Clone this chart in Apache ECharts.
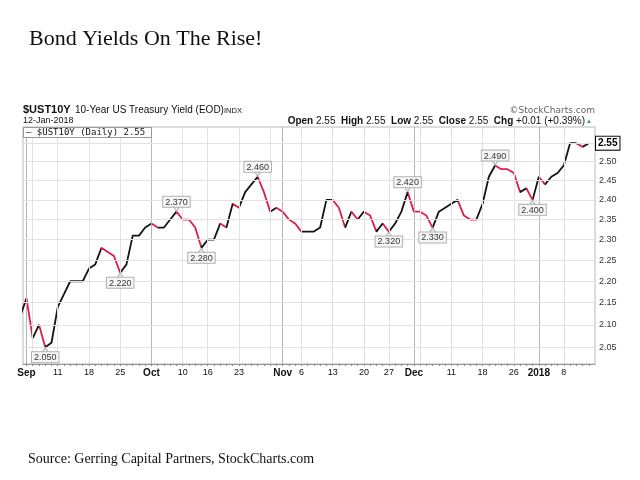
<!DOCTYPE html>
<html><head><meta charset="utf-8">
<script src="https://cdn.jsdelivr.net/npm/echarts@6/dist/echarts.min.js"></script>
<style>html,body{margin:0;padding:0;background:#fff}#c{width:640px;height:480px}</style>
</head><body><div id="c"></div>
<script>
// ---- data (trading days, index 0 = 31-Aug-2017) ----
const dates = ['Aug 31','Sep 1','Sep 5','Sep 6','Sep 7','Sep 8','Sep 11','Sep 12','Sep 13','Sep 14','Sep 15',
 'Sep 18','Sep 19','Sep 20','Sep 21','Sep 22','Sep 25','Sep 26','Sep 27','Sep 28','Sep 29',
 'Oct 2','Oct 3','Oct 4','Oct 5','Oct 6','Oct 10','Oct 11','Oct 12','Oct 13',
 'Oct 16','Oct 17','Oct 18','Oct 19','Oct 20','Oct 23','Oct 24','Oct 25','Oct 26','Oct 27',
 'Oct 30','Oct 31','Nov 1','Nov 2','Nov 3','Nov 6','Nov 7','Nov 8','Nov 9','Nov 10',
 'Nov 13','Nov 14','Nov 15','Nov 16','Nov 17','Nov 20','Nov 21','Nov 22','Nov 24',
 'Nov 27','Nov 28','Nov 29','Nov 30','Dec 1','Dec 4','Dec 5','Dec 6','Dec 7','Dec 8',
 'Dec 11','Dec 12','Dec 13','Dec 14','Dec 15','Dec 18','Dec 19','Dec 20','Dec 21','Dec 22',
 'Dec 26','Dec 27','Dec 28','Dec 29','Jan 2','Jan 3','Jan 4','Jan 5','Jan 8','Jan 9','Jan 10','Jan 11','Jan 12'];
const yields = [2.12,2.16,2.07,2.10,2.05,2.06,2.14,2.17,2.20,2.20,2.20,
 2.23,2.24,2.28,2.27,2.26,2.22,2.24,2.31,2.31,2.33,
 2.34,2.33,2.33,2.35,2.37,2.35,2.35,2.33,2.28,
 2.30,2.30,2.34,2.33,2.39,2.38,2.42,2.44,2.46,2.42,
 2.37,2.38,2.37,2.35,2.34,2.32,2.32,2.32,2.33,2.40,
 2.40,2.38,2.33,2.37,2.35,2.37,2.36,2.32,2.34,
 2.32,2.34,2.37,2.42,2.37,2.37,2.36,2.33,2.37,2.38,
 2.39,2.40,2.36,2.35,2.35,2.39,2.46,2.49,2.48,2.48,
 2.47,2.42,2.43,2.40,2.46,2.44,2.46,2.47,2.49,2.55,2.55,2.54,2.55];
// unchanged (rounded) closes that the source draws as up-days (black)
const flatUpIdx = [23,46,47];
const weekStarts = [2,6,11,16,26,30,35,40,45,50,55,59,64,69,74,79,87];
const monthStarts = [1,21,42,63,83];
const xLabelIdx = [1,6,11,16,21,26,30,35,42,45,50,55,59,63,69,74,79,83,87];
const xLabelText = ['Sep','11','18','25','Oct','10','16','23','Nov','6','13','20','27','Dec','11','18','26','2018','8'];
const boldLabels = ['Sep','Oct','Nov','Dec','2018'];
const yTicks = [2.05,2.10,2.15,2.20,2.25,2.30,2.35,2.40,2.45,2.50,2.55];
const lastValue = 2.55;
const highIdx = [25,38,62,76];
const lowIdx = [4,16,29,59,66,82];

const RED = '#dc1e48', BLACK = '#141414';
const SANS = 'Arial, "Liberation Sans", sans-serif';

// segment colours: down = red, up = black, unchanged = previous colour unless listed
const seg = [];
let prev = 'up';
for (let i = 1; i < yields.length; i++) {
  let d = yields[i] < yields[i-1] ? 'down' : (yields[i] > yields[i-1] ? 'up' : prev);
  if (yields[i] === yields[i-1] && flatUpIdx.includes(i)) d = 'up';
  seg.push(d); prev = d;
}
const pieces = [];
let s = 0;
for (let i = 1; i <= seg.length; i++) {
  if (i === seg.length || seg[i] !== seg[s]) {
    pieces.push({gte: s, lte: i, color: seg[s] === 'down' ? RED : BLACK});
    s = i;
  }
}

const lineData = yields.map((v, i) => [i, v]);
const dayIdx = yields.map((v, i) => i);

const vLines = weekStarts.map(i => ({xAxis: i, lineStyle: {color: '#e2e2e2', width: 1, type: 'solid'}}))
  .concat(monthStarts.map(i => ({xAxis: i, lineStyle: {color: '#b5b5b5', width: 1, type: 'solid'}})));
const hLines = yTicks.map(v => ({
  yAxis: v,
  lineStyle: {color: '#e2e2e2', width: 1, type: 'solid'},
  label: v === lastValue ? {
    show: true, position: 'end', distance: 1,
    formatter: '{box|' + v.toFixed(2) + '}',
    rich: {box: {borderColor: '#000', borderWidth: 1, padding: [2, 2, 1, 2], fontWeight: 'bold',
      fontSize: 10, color: '#000', backgroundColor: '#fff', fontFamily: SANS}}
  } : {
    show: true, position: 'end', distance: 4, formatter: v.toFixed(2),
    color: '#333', fontSize: 9, fontFamily: SANS
  }
}));

const callouts = highIdx.map(i => ({type: 'high', i})).concat(lowIdx.map(i => ({type: 'low', i})))
  .map(c => ({
    coord: [c.i, yields[c.i]],
    value: yields[c.i].toFixed(3),
    symbol: 'triangle',
    symbolSize: [7, 5],
    symbolRotate: c.type === 'high' ? 180 : 0,
    symbolOffset: [0, c.type === 'high' ? -3 : 3],
    itemStyle: {color: '#f6f6f6', borderColor: '#b0b0b0', borderWidth: 1},
    label: {
      show: true, position: c.type === 'high' ? 'top' : 'bottom', distance: -1,
      formatter: yields[c.i].toFixed(3), color: '#333', fontSize: 9, fontFamily: SANS,
      backgroundColor: '#f6f6f6', borderColor: '#b0b0b0', borderWidth: 1, padding: [1, 2, 0, 2]
    }
  }));

const chart = echarts.init(document.getElementById('c'), null, {renderer: 'canvas'});
chart.setOption({
  animation: false,
  backgroundColor: '#fff',
  grid: {left: 23, right: 45, top: 127, bottom: 116, show: true, borderColor: '#b8b8b8', borderWidth: 1, backgroundColor: '#fff'},
  xAxis: {
    type: 'value', min: 0.44, max: 91.99,
    splitLine: {show: false},
    axisLine: {show: true, lineStyle: {color: '#999'}},
    axisTick: {show: true, customValues: dayIdx, length: 2, lineStyle: {color: '#888'}},
    axisLabel: {
      customValues: xLabelIdx, margin: 4, color: '#111', fontSize: 9, fontFamily: SANS,
      formatter: v => {
        const t = xLabelText[xLabelIdx.indexOf(Math.round(v))];
        return boldLabels.includes(t) ? '{b|' + t + '}' : t;
      },
      rich: {b: {fontWeight: 'bold', fontSize: 10, color: '#111', fontFamily: SANS}}
    }
  },
  yAxis: {
    type: 'log', logBase: 10, min: 2.0137, max: 2.5945, position: 'right',
    axisLine: {show: false}, axisTick: {show: false}, axisLabel: {show: false}, splitLine: {show: false}
  },
  visualMap: {show: false, type: 'piecewise', seriesIndex: 1, dimension: 0, pieces: pieces, outOfRange: {color: BLACK}},
  graphic: [
    {type: 'text', x: 29, y: 39, style: {text: 'Bond Yields On The Rise!', font: '22px "Liberation Serif", serif', fill: '#111', align: 'left', textAlign: 'left', verticalAlign: 'middle', textVerticalAlign: 'middle'}},
    {type: 'text', x: 28, y: 459, style: {text: 'Source: Gerring Capital Partners, StockCharts.com', font: '14px "Liberation Serif", serif', fill: '#111', align: 'left', textAlign: 'left', verticalAlign: 'middle', textVerticalAlign: 'middle'}},
    {type: 'text', x: 23, y: 110, style: {text: '$UST10Y', font: 'bold 11px ' + SANS, fill: '#111', align: 'left', textAlign: 'left', verticalAlign: 'middle', textVerticalAlign: 'middle'}},
    {type: 'text', x: 75, y: 110, style: {text: '10-Year US Treasury Yield (EOD)', font: '10px ' + SANS, fill: '#111', align: 'left', textAlign: 'left', verticalAlign: 'middle', textVerticalAlign: 'middle'}},
    {type: 'text', x: 224, y: 110.5, style: {text: 'INDX', font: '7.5px ' + SANS, fill: '#111', align: 'left', textAlign: 'left', verticalAlign: 'middle', textVerticalAlign: 'middle'}},
    {type: 'text', x: 23, y: 121, style: {text: '12-Jan-2018', font: '9px ' + SANS, fill: '#111', align: 'left', textAlign: 'left', verticalAlign: 'middle', textVerticalAlign: 'middle'}},
    {type: 'text', x: 595, y: 110.5, style: {text: '\u00A9StockCharts.com', font: '9px "DejaVu Sans", sans-serif', fill: '#666', align: 'right', textAlign: 'right', verticalAlign: 'middle', textVerticalAlign: 'middle'}},
    {type: 'text', x: 585, y: 121, style: {
      text: '{b|Open} 2.55  {b|High} 2.55  {b|Low} 2.55  {b|Close} 2.55  {b|Chg} +0.01 (+0.39%)',
      font: '10px ' + SANS, fill: '#111', align: 'right', textAlign: 'right', verticalAlign: 'middle', textVerticalAlign: 'middle',
      rich: {b: {fontWeight: 'bold', fontSize: 10, fontFamily: SANS, fill: '#111', color: '#111'}}}},
    {type: 'text', x: 589, y: 121.5, style: {text: '\u25B2', font: '6px ' + SANS, fill: '#2a9a3a', align: 'center', textAlign: 'center', verticalAlign: 'middle', textVerticalAlign: 'middle'}},
    {type: 'rect', shape: {x: 23.5, y: 127.5, width: 128, height: 10}, style: {fill: '#fff', stroke: '#999', lineWidth: 1}, z: 100},
    {type: 'text', x: 26, y: 132.8, z: 101, style: {text: '\u2014 $UST10Y (Daily) 2.55', font: '9px "DejaVu Sans Mono", monospace', fill: '#111', align: 'left', textAlign: 'left', verticalAlign: 'middle', textVerticalAlign: 'middle'}}
  ],
  series: [
    {
      type: 'line', data: [], z: 1, silent: true,
      markLine: {silent: true, symbol: ['none', 'none'], animation: false, label: {show: false}, data: vLines.concat(hLines)}
    },
    {
      name: '$UST10Y (Daily)', type: 'line', data: lineData, z: 3, showSymbol: false, clip: true,
      lineStyle: {width: 1.8},
      markPoint: {silent: true, animation: false, data: callouts}
    }
  ]
});
</script></body></html>
